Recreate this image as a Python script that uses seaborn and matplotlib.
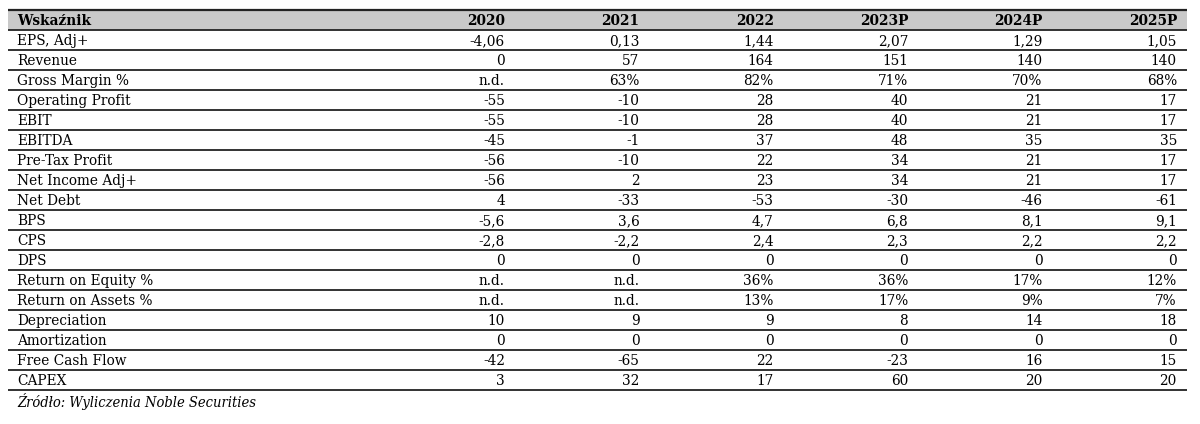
import matplotlib.pyplot as plt
import seaborn as sns

# table content
columns = ['2020', '2021', '2022', '2023P', '2024P', '2025P']
indicators = ['EPS, Adj+', 'Revenue', 'Gross Margin %', 'Operating Profit', 'EBIT',
              'EBITDA', 'Pre-Tax Profit', 'Net Income Adj+', 'Net Debt', 'BPS', 'CPS',
              'DPS', 'Return on Equity %', 'Return on Assets %', 'Depreciation',
              'Amortization', 'Free Cash Flow', 'CAPEX']
values = [
    ['-4,06', '0,13', '1,44', '2,07', '1,29', '1,05'],
    ['0', '57', '164', '151', '140', '140'],
    ['n.d.', '63%', '82%', '71%', '70%', '68%'],
    ['-55', '-10', '28', '40', '21', '17'],
    ['-55', '-10', '28', '40', '21', '17'],
    ['-45', '-1', '37', '48', '35', '35'],
    ['-56', '-10', '22', '34', '21', '17'],
    ['-56', '2', '23', '34', '21', '17'],
    ['4', '-33', '-53', '-30', '-46', '-61'],
    ['-5,6', '3,6', '4,7', '6,8', '8,1', '9,1'],
    ['-2,8', '-2,2', '2,4', '2,3', '2,2', '2,2'],
    ['0', '0', '0', '0', '0', '0'],
    ['n.d.', 'n.d.', '36%', '36%', '17%', '12%'],
    ['n.d.', 'n.d.', '13%', '17%', '9%', '7%'],
    ['10', '9', '9', '8', '14', '18'],
    ['0', '0', '0', '0', '0', '0'],
    ['-42', '-65', '22', '-23', '16', '15'],
    ['3', '32', '17', '60', '20', '20'],
]
header_label = 'Wskaźnik'
source = 'Źródło: Wyliczenia Noble Securities'

sns.set_style('white')
plt.rcParams['font.family'] = ['DejaVu Serif']
plt.rcParams['font.stretch'] = 'condensed'
plt.rcParams['text.color'] = 'black'

fig = plt.figure(figsize=(12, 4.24), dpi=100)
ax = fig.add_axes([0, 0, 1, 1])
ax.set_xlim(0, 1200)
ax.set_ylim(424, 0)
ax.axis('off')

top = 10
row_h = 20.0
left, right = 8, 1187
col_right = [505 + 134.4 * i for i in range(len(columns))]
fs = 11

# header band
ax.axhspan(top, top + row_h, xmin=left / 1200, xmax=right / 1200, color='#c9c9c9', lw=0)
ax.text(17, top + row_h / 2 + 1, header_label, fontsize=fs, fontweight='bold', va='center', ha='left')
for x, c in zip(col_right, columns):
    ax.text(x, top + row_h / 2 + 1, c, fontsize=fs, fontweight='bold', va='center', ha='right')

for i, (name, row) in enumerate(zip(indicators, values)):
    yc = top + row_h * (i + 1) + row_h / 2 + 1
    ax.text(17, yc, name, fontsize=fs, va='center', ha='left')
    for x, v in zip(col_right, row):
        ax.text(x, yc, v, fontsize=fs, va='center', ha='right')

# row lines
n_rows = len(indicators) + 1
for k in range(n_rows + 1):
    y = top + row_h * k
    ax.plot([left, right], [y, y], color='#222222', lw=1.3 if k else 1.6, solid_capstyle='butt')

ax.text(17, top + row_h * n_rows + 11, source, fontsize=10.5, style='italic', va='center', ha='left')

fig.savefig('out.png', dpi=100)
